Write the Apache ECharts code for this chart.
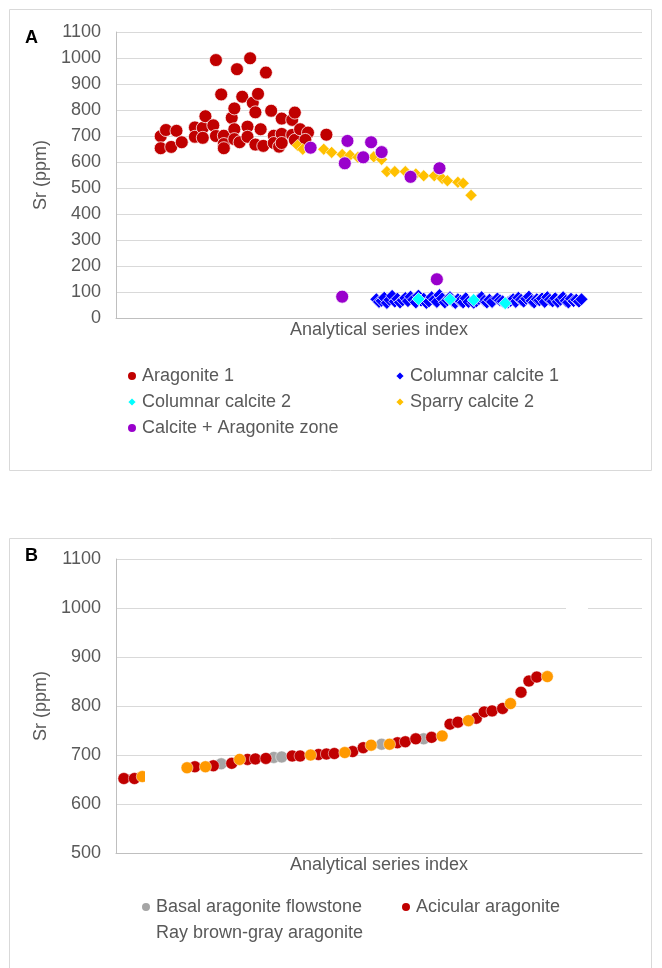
<!DOCTYPE html>
<html>
<head>
<meta charset="utf-8">
<script src="https://cdn.jsdelivr.net/npm/echarts@6/dist/echarts.min.js"></script>
<style>
  html, body { margin: 0; padding: 0; background: #fff; }
  #main { width: 662px; height: 968px; }
</style>
</head>
<body>
<div id="main"></div>
<script>
// panel A : [series index, Sr ppm]
var aragonite1 = [[17,699],[17,653],[19,723],[21,658],[23,720],[25,676],[30,733],[30,697],[33,731],[33,693],
  [34,776],[37,741],[38,700],[38,992],[40,860],[41,701],[41,669],[41,653],[44,770],[45,726],[45,688],[45,806],
  [46,957],[47,676],[48,851],[50,736],[50,697],[51,999],[52,828],[53,667],[53,791],[54,862],[55,726],[56,662],
  [57,944],[59,797],[60,701],[60,673],[62,659],[63,767],[63,708],[63,673],[67,762],[68,790],[67,704],[68,685],
  [70,726],[73,713],[72,685],[80,705]];
var columnar1 = [[99,72],[100,62],[101,66],[102,78],[103,58],[104,70],[105,85],[106,63],[107,74],[108,60],
  [109,68],[110,77],[111,65],[112,82],[113,70],[114,60],[115,86],[116,67],[117,74],[118,58],[119,64],[120,80],
  [121,70],[122,62],[123,88],[124,75],[125,60],[126,68],[127,80],[128,64],[129,58],[130,72],[131,66],[132,60],
  [133,76],[134,62],[136,59],[137,64],[138,73],[139,80],[140,66],[141,60],[142,70],[143,62],[145,75],[146,68],
  [147,64],[149,60],[150,66],[151,72],[152,62],[153,78],[154,70],[155,63],[156,74],[157,82],[158,66],[159,60],
  [160,72],[161,68],[162,75],[163,62],[164,80],[165,70],[166,64],[167,76],[168,62],[169,70],[170,80],[171,66],
  [172,60],[173,74],[174,65],[175,70],[176,63],[177,72]];
var columnar2 = [[115,73],[127,72],[136,69],[148,57]];
var sparry2 = [[69,664],[71,649],[79,649],[82,637],[86,629],[89,626],[92,618],[98,620],[101,610],[103,563],
  [106,563],[110,563],[114,554],[117,547],[121,547],[124,537],[126,528],[130,522],[132,518],[135,472]];
var mixedZone = [[74,655],[88,681],[87,595],[94,618],[97,676],[101,638],[112,543],[123,576],[86,82],[122,149]];

// panel B
var basalFlowstone = [[40,682],[60,695],[63,696],[101,722],[117,733]];
var acicular = [[3,652],[7,652],[30,676],[37,678],[44,683],[50,691],[53,692],[57,693],[67,698],[70,698],
  [77,701],[80,702],[83,703],[90,707],[94,715],[107,725],[110,727],[114,733],[120,736],[127,763],[130,767],
  [137,775],[140,788],[143,790],[147,795],[154,828],[157,851],[160,859]];
var rayBrownGray = [[10,656],[27,674],[34,676],[47,691],[74,700],[87,705],[97,720],[104,722],[124,739],
  [134,770],[150,805],[164,860]];

var txt = '#595959';
var font = 'Liberation Sans, Arial, sans-serif';

function xAx(g) {
  return {
    gridIndex: g, type: 'value', min: 0, max: 200,
    axisLabel: { show: false }, axisTick: { show: false }, splitLine: { show: false },
    axisLine: { lineStyle: { color: '#BFBFBF' } },
    name: 'Analytical series index', nameLocation: 'middle', nameGap: 3,
    nameTextStyle: { fontSize: 18, color: txt, verticalAlign: 'top' }
  };
}
function yAx(g, mn) {
  return {
    gridIndex: g, type: 'value', min: mn, max: 1100, interval: 100,
    axisLine: { show: true, lineStyle: { color: '#BFBFBF' } },
    axisTick: { show: false },
    splitLine: { lineStyle: { color: '#D9D9D9' } },
    axisLabel: { fontSize: 18, color: txt, margin: 15, formatter: function (v) { return String(v); } },
    name: 'Sr (ppm)', nameLocation: 'middle', nameGap: 52,
    nameTextStyle: { fontSize: 18, color: txt }
  };
}
function sc(name, g, data, symbol, size, color, bw) {
  return {
    name: name, type: 'scatter', xAxisIndex: g, yAxisIndex: g,
    data: data, symbol: symbol, symbolSize: size,
    itemStyle: { color: color, borderColor: '#fff', borderWidth: bw, opacity: 1 }
  };
}
function leg(left, top, data) {
  return {
    orient: 'vertical', left: left, top: top, itemWidth: 10, itemHeight: 10, itemGap: 8,
    textStyle: { fontSize: 18, color: txt }, data: data
  };
}

var myChart = echarts.init(document.getElementById('main'));
var option = {
  animation: false,
  textStyle: { fontFamily: font },
  grid: [
    { left: 116, top: 32, width: 526, height: 286 },
    { left: 116, top: 559, width: 526, height: 294 }
  ],
  xAxis: [xAx(0), xAx(1)],
  yAxis: [yAx(0, 0), yAx(1, 500)],
  legend: [
    leg(121, 362, ['Aragonite 1', 'Columnar calcite 2', 'Calcite + Aragonite zone']),
    leg(389, 362, ['Columnar calcite 1', 'Sparry calcite 2']),
    leg(135, 893, ['Basal aragonite flowstone', { name: 'Ray brown-gray aragonite', itemStyle: { opacity: 0 } }]),
    leg(395, 893, ['Acicular aragonite'])
  ],
  graphic: [
    { type: 'rect', shape: { x: 9.5, y: 9.5, width: 642, height: 461 }, style: { fill: 'none', stroke: '#D9D9D9', lineWidth: 1 }, z: -1 },
    { type: 'rect', shape: { x: 9.5, y: 538.5, width: 642, height: 440 }, style: { fill: 'none', stroke: '#D9D9D9', lineWidth: 1 }, z: -1 },
    { type: 'text', left: 25, top: 29, style: { text: 'A', font: 'bold 18px ' + font, fill: '#000' } },
    { type: 'text', left: 25, top: 547, style: { text: 'B', font: 'bold 18px ' + font, fill: '#000' } },
    { type: 'rect', shape: { x: 566, y: 604, width: 22, height: 8 }, style: { fill: '#fff' }, z: 100 },
    { type: 'rect', shape: { x: 145, y: 760, width: 35, height: 36 }, style: { fill: '#fff' }, z: 100 }
  ],
  series: [
    sc('Aragonite 1', 0, aragonite1, 'circle', 13, '#C00000', 0.75),
    sc('Columnar calcite 1', 0, columnar1, 'diamond', 13, '#0000FF', 0.75),
    sc('Columnar calcite 2', 0, columnar2, 'diamond', 13, '#00FFFF', 0.75),
    sc('Sparry calcite 2', 0, sparry2, 'diamond', 12, '#FFC000', 0.5),
    sc('Calcite + Aragonite zone', 0, mixedZone, 'circle', 13, '#9900CC', 0.75),
    sc('Basal aragonite flowstone', 1, basalFlowstone, 'circle', 12, '#A5A5A5', 0.5),
    sc('Acicular aragonite', 1, acicular, 'circle', 12, '#C00000', 0.5),
    sc('Ray brown-gray aragonite', 1, rayBrownGray, 'circle', 12, '#FF9900', 0.5)
  ]
};
myChart.setOption(option);
</script>
</body>
</html>
